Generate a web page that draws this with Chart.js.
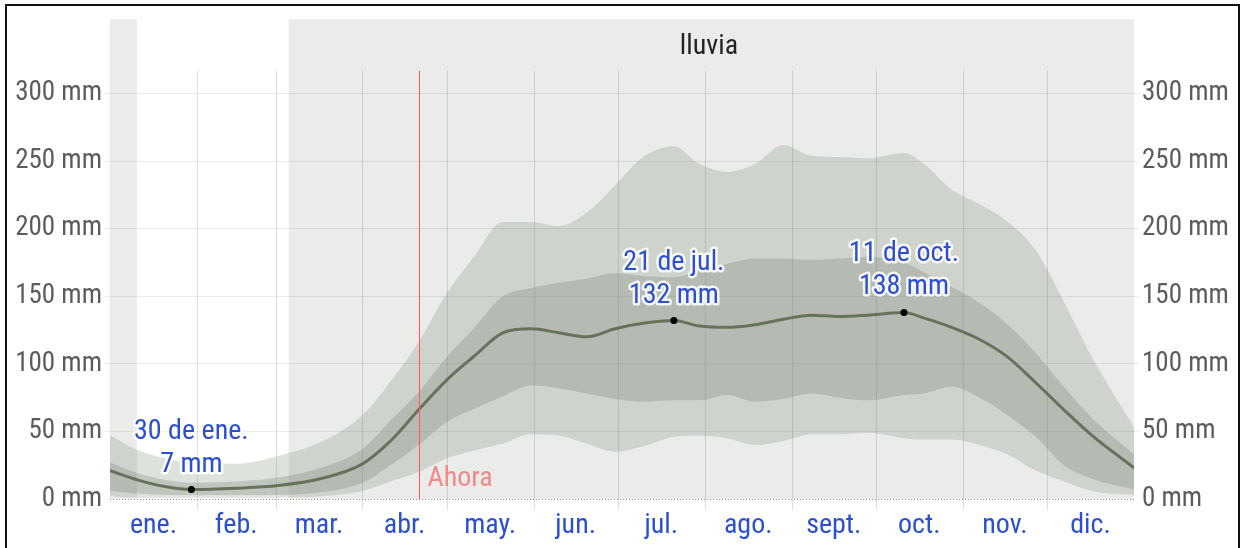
<!DOCTYPE html>
<html lang="es">
<head>
<meta charset="utf-8">
<title>Lluvia</title>
<script src="https://cdn.jsdelivr.net/npm/chart.js@4.4.1/dist/chart.umd.min.js"></script>
<style>
  html, body { margin: 0; padding: 0; background: #fff; }
  #wrap { position: relative; width: 1241px; height: 548px; overflow: hidden; }
  #frame { position: absolute; left: 5px; top: 4px; width: 1231px; height: 600px; border: 2px solid #111; pointer-events: none; }
</style>
</head>
<body>
<div id="wrap">
  <canvas id="rain-chart" width="1241" height="548"></canvas>
  <div id="frame"></div>
</div>
<script>
// day of year (0 = 1 Jan) and rainfall values in mm
const days = [0, 10, 20, 29, 45, 60, 75, 90, 100, 110, 120, 130, 140, 150, 160, 170, 180, 190, 201, 210,
              220, 230, 240, 250, 260, 270, 283, 290, 300, 310, 320, 330, 340, 350, 365];
const rainMean = [21, 14, 9, 7, 8, 10, 15, 26, 43, 66, 88, 106, 123, 126, 123, 120, 126, 130, 132, 128,
                  127, 129, 133, 136, 135, 136, 138, 134, 127, 118, 105, 86, 66, 47, 23];
const rainP90 = [47, 36, 30, 27, 26, 32, 42, 62, 87, 116, 152, 180, 205, 205, 202, 212, 232, 253, 261, 248,
                 242, 248, 262, 254, 253, 252, 256, 248, 229, 218, 205, 184, 146, 105, 53];
const rainP75 = [27, 19, 14, 12, 13, 16, 23, 37, 58, 79, 105, 127, 150, 156, 160, 163, 167, 165, 164, 169,
                 174, 178, 178, 177, 178, 179, 175, 168, 157, 145, 129, 108, 83, 60, 33];
const rainP25 = [6, 4, 3, 3, 3, 3, 5, 12, 25, 40, 57, 67, 76, 84, 82, 78, 74, 72, 73, 73,
                 77, 72, 74, 78, 75, 73, 77, 78, 83, 75, 62, 46, 25, 15, 7];
const rainP10 = [2, 1, 1, 1, 1, 1, 2, 6, 13, 20, 30, 36, 41, 48, 47, 41, 35, 39, 46, 47,
                 45, 40, 43, 48, 48, 49, 45, 44, 44, 40, 33, 21, 13, 6, 3];

// highlighted points
const markDays = [29, 201, 283];
const markValues = [7, 132, 138];
const markDates = ['30 de ene.', '21 de jul.', '11 de oct.'];

const monthNames = ['ene.', 'feb.', 'mar.', 'abr.', 'may.', 'jun.', 'jul.', 'ago.', 'sept.', 'oct.', 'nov.', 'dic.'];
const monthStarts = [0, 31, 59, 90, 120, 151, 181, 212, 243, 273, 304, 334, 365];
const yTicks = [0, 50, 100, 150, 200, 250, 300];
const shadeRanges = [[0, 9.6], [63.7, 365]];
const nowDay = 110;

const FONT = "'Liberation Sans Narrow', 'Roboto Condensed', 'Liberation Sans', sans-serif";
const monthMids = monthStarts.slice(0, 12).map((s, i) => (s + monthStarts[i + 1]) / 2);
const pts = arr => days.map((d, i) => ({ x: d, y: arr[i] }));

const decor = {
    id: 'decor',
    beforeDraw(chart) {
        const { ctx, chartArea: a, scales: { x } } = chart;
        ctx.save();
        ctx.fillStyle = '#ebebea';
        shadeRanges.forEach(([s, e]) => {
            const x0 = x.getPixelForValue(s);
            ctx.fillRect(x0, a.top, x.getPixelForValue(e) - x0, a.bottom - a.top);
        });
        ctx.fillStyle = '#222';
        ctx.font = '28px ' + FONT;
        ctx.textAlign = 'center';
        ctx.textBaseline = 'middle';
        ctx.fillText('lluvia', x.getPixelForValue(213.5), 47);
        ctx.restore();
    },
    beforeDatasetsDraw(chart) {
        const { ctx, chartArea: a, scales: { x, y } } = chart;
        ctx.save();
        ctx.strokeStyle = 'rgba(0,0,0,0.13)';
        ctx.lineWidth = 1;
        const top = y.getPixelForValue(317);
        monthStarts.slice(1, 12).forEach(d => {
            const px = Math.round(x.getPixelForValue(d)) + 0.5;
            ctx.beginPath();
            ctx.moveTo(px, top);
            ctx.lineTo(px, a.bottom + 11);
            ctx.stroke();
        });
        ctx.restore();
    },
    afterDatasetsDraw(chart) {
        const { ctx, chartArea: a, scales: { x, y } } = chart;
        ctx.save();
        // zero line
        const y0 = Math.round(y.getPixelForValue(0)) + 0.5;
        ctx.lineWidth = 1;
        ctx.strokeStyle = '#8a8a8a';
        ctx.setLineDash([1, 2]);
        ctx.beginPath();
        ctx.moveTo(a.left, y0);
        ctx.lineTo(a.right, y0);
        ctx.stroke();
        ctx.setLineDash([]);

        // "Ahora"
        const nx = Math.round(x.getPixelForValue(nowDay)) + 0.5;
        ctx.strokeStyle = '#ff5858';
        ctx.lineWidth = 1;
        ctx.beginPath();
        ctx.moveTo(nx, y.getPixelForValue(317));
        ctx.lineTo(nx, a.bottom);
        ctx.stroke();
        ctx.fillStyle = '#f08a8a';
        ctx.font = '28px ' + FONT;
        ctx.textAlign = 'left';
        ctx.textBaseline = 'alphabetic';
        ctx.fillText('Ahora', nx + 8, 486);

        // labels above the marked points
        const meta = chart.getDatasetMeta(5);
        ctx.textAlign = 'center';
        ctx.textBaseline = 'middle';
        ctx.lineJoin = 'round';
        meta.data.forEach((el, i) => {
            const lines = [markDates[i], markValues[i] + ' mm'];
            lines.forEach((t, j) => {
                const ty = el.y - 25 - (1 - j) * 33;
                ctx.strokeStyle = 'rgba(255,255,255,0.85)';
                ctx.lineWidth = 5;
                ctx.strokeText(t, el.x, ty);
                ctx.fillStyle = '#2b4fcf';
                ctx.fillText(t, el.x, ty);
            });
        });
        ctx.restore();
    }
};

const gridColor = c => (c.tick && c.tick.value === 0) ? 'rgba(0,0,0,0)' : 'rgba(0,0,0,0.08)';

const rainChart = new Chart(document.getElementById('rain-chart'), {
    type: 'line',
    data: {
        datasets: [
            { data: pts(rainP90), fill: 1, backgroundColor: 'rgba(119,139,118,0.25)', borderWidth: 0, order: 5 },
            { data: pts(rainP10), fill: false, borderWidth: 0, order: 6 },
            { data: pts(rainP75), fill: 3, backgroundColor: 'rgba(123,134,115,0.3)', borderWidth: 0, order: 3 },
            { data: pts(rainP25), fill: false, borderWidth: 0, order: 4 },
            { data: pts(rainMean), fill: false, borderColor: '#66735b', borderWidth: 3, order: 2 },
            {
                data: markDays.map((d, i) => ({ x: d, y: markValues[i] })),
                showLine: false, pointRadius: 3.5, pointBackgroundColor: '#000', pointBorderWidth: 0, order: 1
            }
        ]
    },
    options: {
        responsive: false,
        animation: false,
        layout: { padding: { top: 18 } },
        elements: { point: { radius: 0 }, line: { cubicInterpolationMode: 'monotone' } },
        plugins: { legend: { display: false }, tooltip: { enabled: false } },
        scales: {
            x: {
                type: 'linear', min: 0, max: 365,
                grid: { display: false },
                border: { display: false },
                afterBuildTicks: s => { s.ticks = monthMids.map(v => ({ value: v })); },
                afterFit: s => { s.height = 49; },
                ticks: {
                    autoSkip: false, maxRotation: 0, padding: 2, color: '#2b4fcf',
                    font: { family: FONT, size: 28 },
                    callback: (v, i) => monthNames[i]
                }
            },
            y: {
                position: 'left', min: 0, max: 355,
                afterBuildTicks: s => { s.ticks = yTicks.map(v => ({ value: v })); },
                afterFit: s => { s.width = 110; },
                grid: { color: gridColor, tickLength: 5 },
                border: { display: false },
                ticks: { color: '#5c5c5c', padding: 3, font: { family: FONT, size: 27 }, callback: v => v + ' mm' }
            },
            y2: {
                position: 'right', min: 0, max: 355,
                afterBuildTicks: s => { s.ticks = yTicks.map(v => ({ value: v })); },
                afterFit: s => { s.width = 107; },
                grid: { color: gridColor, tickLength: 5, drawOnChartArea: false },
                border: { display: false },
                ticks: { color: '#5c5c5c', padding: 3, font: { family: FONT, size: 27 }, callback: v => v + ' mm' }
            }
        }
    },
    plugins: [decor]
});
</script>
</body>
</html>
